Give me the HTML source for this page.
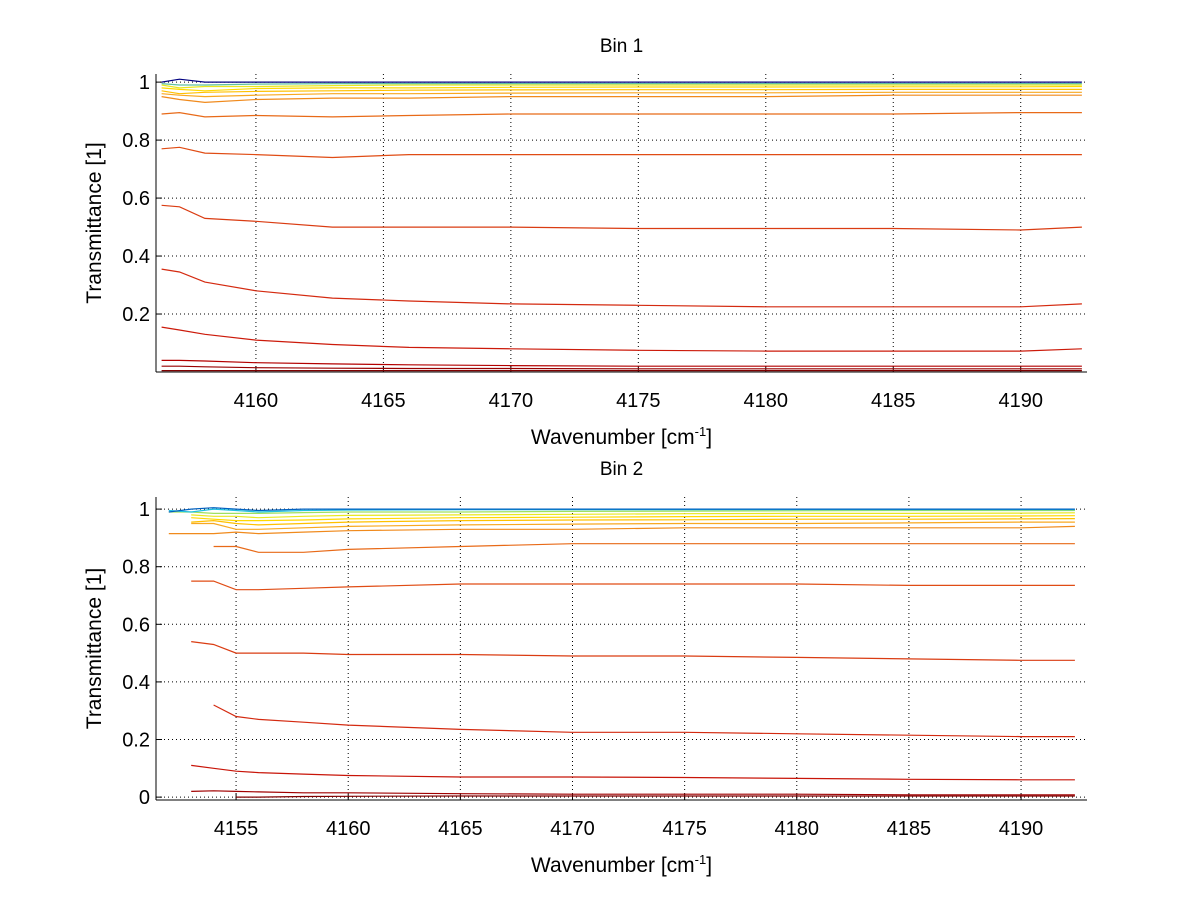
<!DOCTYPE html>
<html><head><meta charset="utf-8"><style>
html,body{margin:0;padding:0;background:#fff;}
svg{display:block;font-family:"Liberation Sans",Arial,sans-serif;}
</style></head><body>
<svg id="fig" width="1200" height="901" viewBox="0 0 1200 901"></svg>
<script>
// ---- Bin 1 data ----
const xs1 = [4156.3, 4157, 4158, 4160, 4163, 4166, 4170, 4175, 4180, 4185, 4190, 4192.4];
const bin1Series = [
 [0.005,0.005,0.005,0.005,0.005,0.005,0.005,0.005,0.005,0.005,0.005,0.005],
 [0.02,0.02,0.018,0.015,0.013,0.012,0.012,0.011,0.011,0.011,0.011,0.011],
 [0.04,0.04,0.038,0.032,0.028,0.025,0.022,0.02,0.02,0.02,0.02,0.02],
 [0.155,0.145,0.13,0.11,0.095,0.085,0.08,0.075,0.072,0.072,0.072,0.08],
 [0.355,0.345,0.31,0.28,0.255,0.245,0.235,0.23,0.225,0.225,0.225,0.235],
 [0.575,0.57,0.53,0.52,0.5,0.5,0.5,0.495,0.495,0.495,0.49,0.5],
 [0.77,0.775,0.755,0.75,0.74,0.75,0.75,0.75,0.75,0.75,0.75,0.75],
 [0.89,0.895,0.88,0.885,0.88,0.885,0.89,0.89,0.89,0.89,0.895,0.895],
 [0.95,0.94,0.93,0.94,0.945,0.945,0.95,0.95,0.95,0.955,0.955,0.955],
 [0.96,0.955,0.95,0.955,0.96,0.96,0.962,0.963,0.963,0.965,0.965,0.965],
 [0.97,0.96,0.965,0.968,0.97,0.972,0.973,0.974,0.974,0.975,0.975,0.975],
 [0.98,0.975,0.97,0.978,0.98,0.98,0.982,0.983,0.983,0.984,0.984,0.985],
 [0.99,0.98,0.985,0.985,0.988,0.99,0.99,0.99,0.99,0.99,0.99,0.99],
 [0.995,0.99,0.99,0.993,0.995,0.995,0.995,0.995,0.995,0.995,0.995,0.995],
 [1.0,1.01,1.0,1.0,1.0,1.0,1.0,1.0,1.0,1.0,1.0,1.0]
];
const bin1Colors = ["#800000","#990000","#b30000","#cc1a0a","#d42a10","#da3c12","#e04c14","#e86a18","#f08a1c","#f8a820","#ffc000","#ffd800","#e8e820","#60c0a0","#000080"];
// ---- Bin 2 data ----
const xs2 = [4152, 4153, 4154, 4155, 4156, 4158, 4160, 4165, 4170, 4175, 4180, 4185, 4190, 4192.4];
const bin2Series = [
 [null,null,null,0.0,0.0,0.002,0.003,0.004,0.004,0.004,0.004,0.004,0.004,0.004],
 [null,0.02,0.022,0.02,0.018,0.015,0.015,0.012,0.01,0.01,0.01,0.008,0.008,0.008],
 [null,0.11,0.1,0.09,0.085,0.08,0.075,0.07,0.07,0.068,0.065,0.062,0.06,0.06],
 [null,null,0.32,0.28,0.27,0.26,0.25,0.235,0.225,0.225,0.22,0.215,0.21,0.21],
 [null,0.54,0.53,0.5,0.5,0.5,0.495,0.495,0.49,0.49,0.485,0.48,0.475,0.475],
 [null,0.75,0.75,0.72,0.72,0.725,0.73,0.74,0.74,0.74,0.74,0.735,0.735,0.735],
 [null,null,0.87,0.87,0.85,0.85,0.86,0.87,0.88,0.88,0.88,0.88,0.88,0.88],
 [0.915,0.915,0.915,0.92,0.915,0.92,0.925,0.93,0.93,0.935,0.935,0.935,0.935,0.94],
 [null,0.95,0.95,0.93,0.93,0.935,0.94,0.945,0.948,0.95,0.95,0.952,0.955,0.955],
 [null,0.955,0.96,0.95,0.945,0.95,0.955,0.96,0.962,0.963,0.965,0.965,0.966,0.967],
 [null,0.97,0.965,0.96,0.96,0.962,0.966,0.97,0.972,0.974,0.975,0.975,0.976,0.977],
 [null,0.98,0.975,0.975,0.97,0.975,0.978,0.98,0.982,0.984,0.985,0.985,0.986,0.987],
 [0.99,0.99,0.985,0.985,0.985,0.988,0.99,0.99,0.992,0.993,0.994,0.995,0.995,0.995],
 [0.995,0.99,1.0,0.995,0.99,0.995,0.997,0.998,0.998,0.998,0.998,0.998,0.998,0.998],
 [0.99,1.0,1.005,1.0,0.995,1.0,1.0,1.0,1.0,1.0,1.0,1.0,1.0,1.0]
];
const bin2Colors = ["#800000","#a00000","#c81408","#d42a10","#da3c12","#e04c14","#e86a18","#f08a1c","#f8a820","#ffc000","#ffd800","#e8e820","#a0e060","#20c0e0","#0060c0"];
const yTicks = [0, 0.2, 0.4, 0.6, 0.8, 1];
const yTickLabels1 = ["", "0.2", "0.4", "0.6", "0.8", "1"];
const yTickLabels2 = ["0", "0.2", "0.4", "0.6", "0.8", "1"];
const xTicks1 = [4160, 4165, 4170, 4175, 4180, 4185, 4190];
const xTicks2 = [4155, 4160, 4165, 4170, 4175, 4180, 4185, 4190];

const NS = "http://www.w3.org/2000/svg";
const svg = document.getElementById("fig");
function mk(tag, attrs, parent){
  const e = document.createElementNS(NS, tag);
  for (const k in attrs) e.setAttribute(k, attrs[k]);
  (parent||svg).appendChild(e);
  return e;
}
function panel(cfg){
  const g = mk("g", {});
  
  
  const X = v => cfg.L + (v - cfg.x0) / (cfg.x1 - cfg.x0) * (cfg.R - cfg.L);
  const Y = v => cfg.B - (v - cfg.y0) / (cfg.y1 - cfg.y0) * (cfg.B - cfg.T);
  cfg.xt.forEach(t => {
    const l = mk("line", {x1:X(t), x2:X(t), y1:cfg.T, y2:cfg.B, stroke:"#000", "stroke-width":1, "stroke-dasharray":"1,3"}, g);
    
    
    mk("line", {x1:X(t), x2:X(t), y1:cfg.B, y2:cfg.B-6, stroke:"#000"}, g);
    const tx = mk("text", {x:X(t), y:cfg.B+35, "text-anchor":"middle", "font-size":20}, g);
    tx.textContent = t;
    
    
  });
  cfg.yt.forEach((t, i) => {
    if (t > cfg.y0 + 0.001) {
      const l = mk("line", {x1:cfg.L, x2:cfg.R, y1:Y(t), y2:Y(t), stroke:"#000", "stroke-width":1, "stroke-dasharray":"1,3"}, g);
      
      
    }
    if (t >= cfg.y0) {
      mk("line", {x1:cfg.L, x2:cfg.L+6, y1:Y(t), y2:Y(t), stroke:"#000"}, g);
      const tx = mk("text", {x:cfg.L-6, y:Y(t)+7, "text-anchor":"end", "font-size":20}, g);
      tx.textContent = cfg.ytl[i];
      
      
    }
  });
  cfg.series.forEach((s, si) => {
    let d = "";
    let pen = false;
    s.forEach((v, i) => {
      if (v === null) { pen = false; return; }
      d += (pen ? "L" : "M") + X(cfg.xs[i]).toFixed(1) + "," + Y(v).toFixed(1);
      pen = true;
    });
    const p = mk("path", {d:d, fill:"none", stroke:cfg.colors[si], "stroke-width":1.2}, g);
    
    
  });
  mk("line", {x1:cfg.L, x2:cfg.L, y1:cfg.T, y2:cfg.B, stroke:"#000"}, g);
  mk("line", {x1:cfg.L, x2:cfg.R, y1:cfg.B, y2:cfg.B, stroke:"#000"}, g);
  const title = mk("text", {x:(cfg.L+cfg.R)/2, y:cfg.T-22, "text-anchor":"middle", "font-size":19}, g);
  title.textContent = cfg.title;
  
  
  const xl = mk("text", {x:(cfg.L+cfg.R)/2, y:cfg.B+72, "text-anchor":"middle", "font-size":21}, g);
  xl.innerHTML = 'Wavenumber [cm<tspan dy="-8" font-size="13">-1</tspan><tspan dy="8">]</tspan>';
  
  
  const cy = (cfg.T+cfg.B)/2;
  const yl = mk("text", {x:101, y:cy, "text-anchor":"middle", "font-size":21, transform:"rotate(-90 101 "+cy+")"}, g);
  yl.textContent = "Transmittance [1]";
  
  
}
panel({name:"bin1-panel", title:"Bin 1", L:156, R:1087, T:74, B:372, x0:4156.08, x1:4192.6, y0:0.0, y1:1.028,
  xs:xs1, series:bin1Series, colors:bin1Colors, xt:xTicks1, yt:yTicks, ytl:yTickLabels1});
panel({name:"bin2-panel", title:"Bin 2", L:156, R:1087, T:497, B:800, x0:4151.43, x1:4192.94, y0:-0.01, y1:1.042,
  xs:xs2, series:bin2Series, colors:bin2Colors, xt:xTicks2, yt:yTicks, ytl:yTickLabels2});
</script>
</body></html>
